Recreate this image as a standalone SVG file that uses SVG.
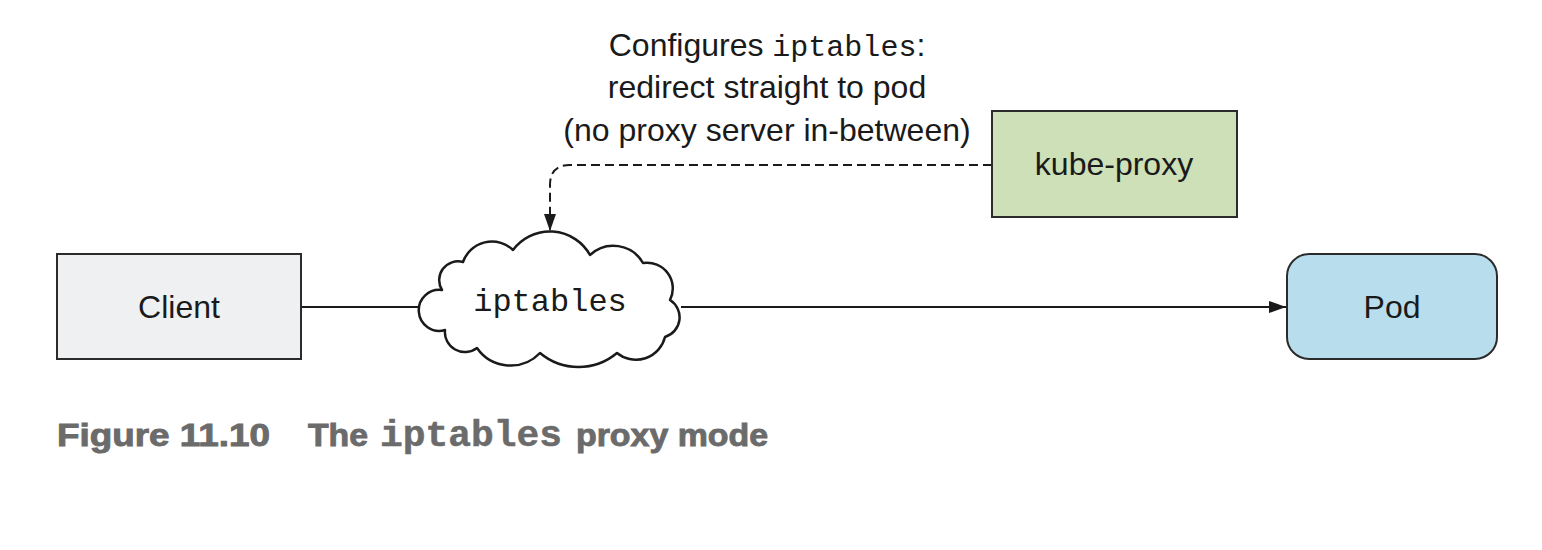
<svg xmlns="http://www.w3.org/2000/svg" width="1542" height="550" viewBox="0 0 1542 550">
  <style>
    .sans { font-family: "Liberation Sans", Arial, sans-serif; font-size: 32px; fill: #1a1a1a; }
    .mono { font-family: "Liberation Mono", "Courier New", monospace; }
    .box { stroke: #2b2b2b; stroke-width: 2; }
    .edge { fill: none; stroke: #1a1a1a; stroke-width: 2; }
    .cap { font-family: "Liberation Sans", Arial, sans-serif; font-weight: bold; font-size: 31px; fill: #6b6b6b; stroke: #6b6b6b; stroke-width: 0.9; }
    .cap.capmono { font-family: "Liberation Mono", "Courier New", monospace; font-size: 36px; stroke-width: 0.5; }
  </style>
  <defs>
    <marker id="arrow" viewBox="0 0 17 12" refX="17" refY="6" markerWidth="17" markerHeight="12" markerUnits="userSpaceOnUse" orient="auto">
      <path d="M0,0 L17,6 L0,12 Z" fill="#1a1a1a"/>
    </marker>
  </defs>
  <rect width="1542" height="550" fill="#ffffff"/>

  <g id="annotation">
    <text class="sans" x="767" y="56" text-anchor="middle">Configures <tspan class="mono" font-size="30">iptables</tspan>:</text>
    <text class="sans" x="767" y="98" text-anchor="middle">redirect straight to pod</text>
    <text class="sans" x="767" y="141" text-anchor="middle">(no proxy server in-between)</text>
  </g>

  <g id="connectors">
    <line class="edge" x1="301" y1="307" x2="420" y2="307"/>
    <line class="edge" x1="681" y1="307" x2="1286" y2="307" marker-end="url(#arrow)"/>
    <path class="edge" d="M992,165 L570,165 Q550,165 550,185 L550,231" stroke-dasharray="9,5" marker-end="url(#arrow)"/>
  </g>

  <g id="client">
    <rect class="box" x="57" y="254" width="244" height="105" fill="#eff0f2"/>
    <text class="sans" x="179" y="318" text-anchor="middle">Client</text>
  </g>

  <g id="kube-proxy">
    <rect class="box" x="992" y="111" width="245" height="106" fill="#cde0b7"/>
    <text class="sans" x="1114" y="175" text-anchor="middle">kube-proxy</text>
  </g>

  <g id="pod">
    <rect class="box" x="1287" y="254" width="210" height="105" rx="22" ry="22" fill="#b8deed"/>
    <text class="sans" x="1392" y="318" text-anchor="middle">Pod</text>
  </g>

  <g id="iptables">
    <path d="M442,290 A18.8,18.8 0 0 1 463,262 A30.6,30.6 0 0 1 513,250 A46,46 0 0 1 590,255 A34.1,34.1 0 0 1 643,263 A25.7,25.7 0 0 1 670,300 A20.5,20.5 0 0 1 665,337 A29.9,29.9 0 0 1 617,353 A59.9,59.9 0 0 1 540,353 A40.8,40.8 0 0 1 477,348 A20,20 0 0 1 445,330 A20.5,20.5 0 1 1 442,290 Z" fill="#ffffff" stroke="#1a1a1a" stroke-width="2.5" stroke-linejoin="round"/>
    <text class="mono" x="550" y="311" text-anchor="middle" font-size="32" fill="#1a1a1a">iptables</text>
  </g>

  <g id="caption">
    <text class="cap" x="57" y="446" textLength="213" lengthAdjust="spacingAndGlyphs">Figure 11.10</text>
    <text class="cap" x="308" y="446" textLength="60" lengthAdjust="spacingAndGlyphs">The</text>
    <text class="cap capmono" x="380" y="446" textLength="182" lengthAdjust="spacingAndGlyphs">iptables</text>
    <text class="cap" x="576" y="446" textLength="192" lengthAdjust="spacingAndGlyphs">proxy mode</text>
  </g>
</svg>
